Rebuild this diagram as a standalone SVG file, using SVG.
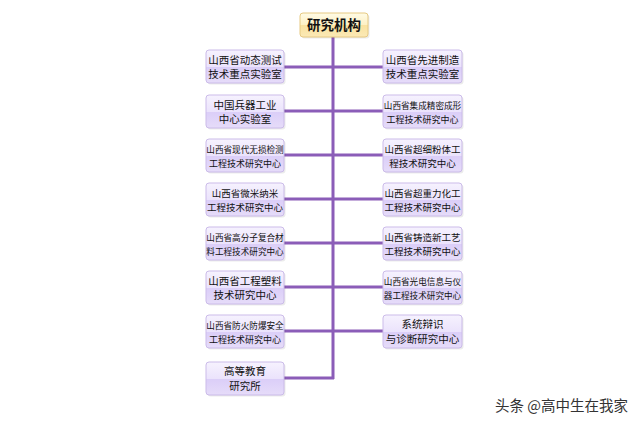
<svg xmlns="http://www.w3.org/2000/svg" width="640" height="427" viewBox="0 0 640 427">
<defs>
<linearGradient id="gp" x1="0" y1="0" x2="0" y2="1">
<stop offset="0" stop-color="#f6f2fe"/>
<stop offset="0.5" stop-color="#ebe3fc"/>
<stop offset="0.52" stop-color="#dbcef8"/>
<stop offset="1" stop-color="#e6dcf9"/>
</linearGradient>
<linearGradient id="gy" x1="0" y1="0" x2="0" y2="1">
<stop offset="0" stop-color="#fffbe6"/>
<stop offset="0.5" stop-color="#fdf0c4"/>
<stop offset="0.52" stop-color="#f9e2a0"/>
<stop offset="1" stop-color="#fbe9b6"/>
</linearGradient>
</defs>
<style>
.b{fill:url(#gp);stroke:#cbbbe9;stroke-width:1}
.s{fill:#000;opacity:0.08}
.t{font-family:"Noto Sans CJK SC","Noto Sans",sans-serif;fill:#111;text-anchor:middle}
.c{stroke:#8b5db8;stroke-width:3;fill:none}
</style>
<rect width="640" height="427" fill="#ffffff"/>
<g id="connectors">
<path class="c" d="M333 37 V379"/>
<path class="c" d="M284 67 H383 M284 111 H383 M284 155 H383 M284 199 H383 M284 243 H383 M284 287 H383 M284 331 H383 M284 378 H334"/>
</g>
<g id="root">
<rect x="300" y="13" width="68" height="24" rx="3" fill="#000" opacity="0.08" transform="translate(1.5,1.5)"/>
<rect x="300" y="13" width="68" height="24" rx="3" fill="url(#gy)" stroke="#e6c982"/>
<text class="t" x="334" y="30" font-size="13.5" font-weight="bold">研究机构</text>
</g>
<g id="L1"><rect class="s" x="207.5" y="51.5" width="78" height="33" rx="3"/><rect class="b" x="206" y="50" width="78" height="33" rx="3"/><text class="t" x="245" y="64" font-size="10.5">山西省动态测试</text><text class="t" x="245" y="78" font-size="10.5">技术重点实验室</text></g>
<g id="L2"><rect class="s" x="207.5" y="96.5" width="78" height="33" rx="3"/><rect class="b" x="206" y="95" width="78" height="33" rx="3"/><text class="t" x="245" y="109" font-size="10.5">中国兵器工业</text><text class="t" x="245" y="123" font-size="10.5">中心实验室</text></g>
<g id="L3"><rect class="s" x="207.5" y="140.5" width="78" height="33" rx="3"/><rect class="b" x="206" y="139" width="78" height="33" rx="3"/><text class="t" x="245" y="153" font-size="8.6">山西省现代无损检测</text><text class="t" x="245" y="167" font-size="9">工程技术研究中心</text></g>
<g id="L4"><rect class="s" x="207.5" y="184.5" width="78" height="33" rx="3"/><rect class="b" x="206" y="183" width="78" height="33" rx="3"/><text class="t" x="245" y="197" font-size="9.5">山西省微米纳米</text><text class="t" x="245" y="211" font-size="9.5">工程技术研究中心</text></g>
<g id="L5"><rect class="s" x="207.5" y="228.5" width="78" height="33" rx="3"/><rect class="b" x="206" y="227" width="78" height="33" rx="3"/><text class="t" x="245" y="241" font-size="8.6">山西省高分子复合材</text><text class="t" x="245" y="255" font-size="8.6">料工程技术研究中心</text></g>
<g id="L6"><rect class="s" x="207.5" y="272.5" width="78" height="33" rx="3"/><rect class="b" x="206" y="271" width="78" height="33" rx="3"/><text class="t" x="245" y="285" font-size="10.5">山西省工程塑料</text><text class="t" x="245" y="299" font-size="10.5">技术研究中心</text></g>
<g id="L7"><rect class="s" x="207.5" y="316.5" width="78" height="33" rx="3"/><rect class="b" x="206" y="315" width="78" height="33" rx="3"/><text class="t" x="245" y="329" font-size="8.6">山西省防火防爆安全</text><text class="t" x="245" y="343" font-size="9">工程技术研究中心</text></g>
<g id="L8"><rect class="s" x="207.5" y="363.5" width="78" height="33" rx="3"/><rect class="b" x="206" y="362" width="78" height="33" rx="3"/><text class="t" x="245" y="375" font-size="10.5">高等教育</text><text class="t" x="245" y="390" font-size="10.5">研究所</text></g>
<g id="R1"><rect class="s" x="384.5" y="51.5" width="79" height="33" rx="3"/><rect class="b" x="383" y="50" width="79" height="33" rx="3"/><text class="t" x="422.5" y="64" font-size="10.5">山西省先进制造</text><text class="t" x="422.5" y="78" font-size="10.5">技术重点实验室</text></g>
<g id="R2"><rect class="s" x="384.5" y="96.5" width="79" height="33" rx="3"/><rect class="b" x="383" y="95" width="79" height="33" rx="3"/><text class="t" x="422.5" y="109" font-size="8.6">山西省集成精密成形</text><text class="t" x="422.5" y="123" font-size="9">工程技术研究中心</text></g>
<g id="R3"><rect class="s" x="384.5" y="140.5" width="79" height="33" rx="3"/><rect class="b" x="383" y="139" width="79" height="33" rx="3"/><text class="t" x="422.5" y="153" font-size="9.5">山西省超细粉体工</text><text class="t" x="422.5" y="167" font-size="9.5">程技术研究中心</text></g>
<g id="R4"><rect class="s" x="384.5" y="184.5" width="79" height="33" rx="3"/><rect class="b" x="383" y="183" width="79" height="33" rx="3"/><text class="t" x="422.5" y="197" font-size="9.5">山西省超重力化工</text><text class="t" x="422.5" y="211" font-size="9.5">工程技术研究中心</text></g>
<g id="R5"><rect class="s" x="384.5" y="228.5" width="79" height="33" rx="3"/><rect class="b" x="383" y="227" width="79" height="33" rx="3"/><text class="t" x="422.5" y="241" font-size="9.5">山西省铸造新工艺</text><text class="t" x="422.5" y="255" font-size="9.5">工程技术研究中心</text></g>
<g id="R6"><rect class="s" x="384.5" y="272.5" width="79" height="33" rx="3"/><rect class="b" x="383" y="271" width="79" height="33" rx="3"/><text class="t" x="422.5" y="285" font-size="8.6">山西省光电信息与仪</text><text class="t" x="422.5" y="299" font-size="8.6">器工程技术研究中心</text></g>
<g id="R7"><rect class="s" x="384.5" y="316.5" width="79" height="33" rx="3"/><rect class="b" x="383" y="315" width="79" height="33" rx="3"/><text class="t" x="422.5" y="328" font-size="10.5">系统辩识</text><text class="t" x="422.5" y="343" font-size="10.5">与诊断研究中心</text></g>
<text x="628" y="411" font-family="Noto Sans CJK SC,sans-serif" font-size="14.5" fill="#333" text-anchor="end">头条 @高中生在我家</text>
</svg>
